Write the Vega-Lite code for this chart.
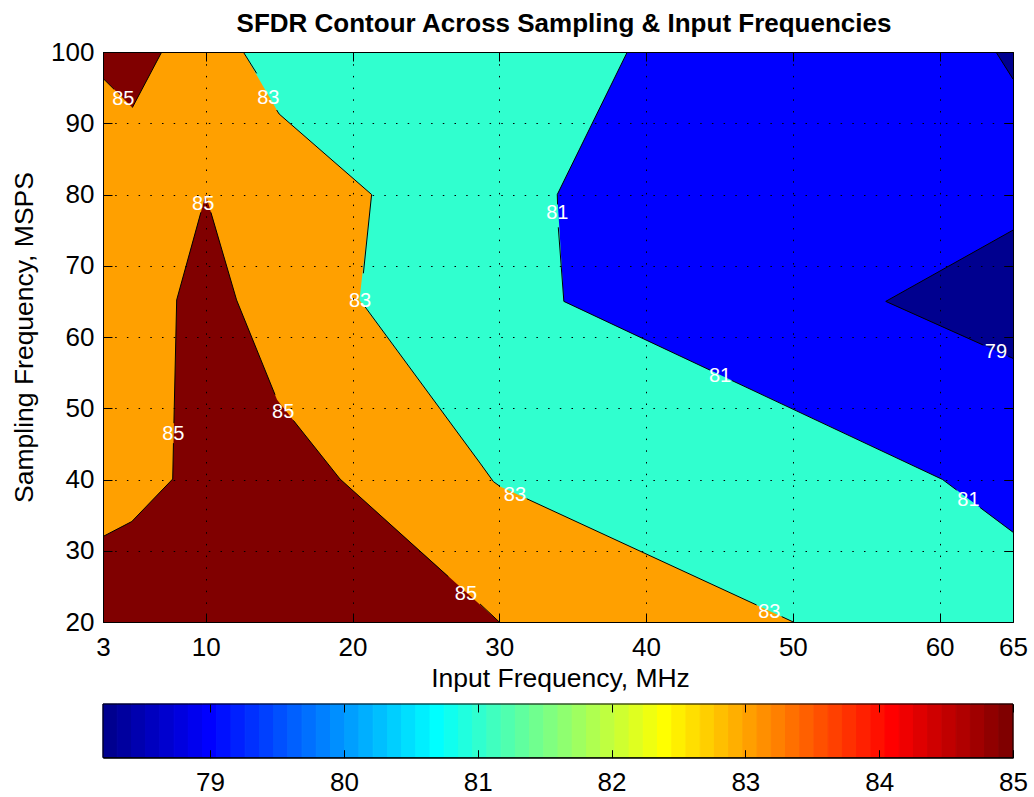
{
  "$schema": "https://vega.github.io/schema/vega-lite/v6.json",
  "padding": {"left": 11, "top": 11, "right": 0, "bottom": 0},
  "background": "white",
  "width": 910,
  "height": 570,
  "config": {
    "view": {"stroke": null},
    "font": "Liberation Sans",
    "axis": {
      "domainColor": "black", "domainWidth": 1, "tickColor": "black", "tickWidth": 1,
      "labelColor": "black", "titleColor": "black", "labelFont": "Liberation Sans", "titleFont": "Liberation Sans",
      "labelFontSize": 26, "titleFontSize": 26.5, "titleFontWeight": "normal",
      "labelFlush": false, "labelOverlap": false, "minExtent": 0,
      "gridColor": "black", "gridOpacity": 1, "gridDash": [1.5, 10.2], "gridWidth": 1
    }
  },
  "title": {"text": "SFDR Contour Across Sampling & Input Frequencies", "fontSize": 26, "fontWeight": "bold", "font": "Liberation Sans", "color": "black", "baseline": "alphabetic", "offset": -19, "anchor": "middle", "dx": 6},
  "datasets": {
    "poly": [
      {"p": 0, "lev": "83", "o": 1, "x": 3, "y": 20}, {"p": 0, "lev": "83", "o": 2, "x": 65, "y": 20}, {"p": 0, "lev": "83", "o": 3, "x": 65, "y": 100}, {"p": 0, "lev": "83", "o": 4, "x": 3, "y": 100},
      {"p": 1, "lev": "85", "o": 1, "x": 3, "y": 100}, {"p": 1, "lev": "85", "o": 2, "x": 7, "y": 100}, {"p": 1, "lev": "85", "o": 3, "x": 5, "y": 92.2}, {"p": 1, "lev": "85", "o": 4, "x": 3, "y": 96.3},
      {"p": 2, "lev": "85", "o": 1, "x": 3, "y": 20}, {"p": 2, "lev": "85", "o": 2, "x": 3, "y": 32}, {"p": 2, "lev": "85", "o": 3, "x": 4.96, "y": 34.1}, {"p": 2, "lev": "85", "o": 4, "x": 7.75, "y": 40.07}, {"p": 2, "lev": "85", "o": 5, "x": 8.02, "y": 65.2}, {"p": 2, "lev": "85", "o": 6, "x": 10, "y": 80}, {"p": 2, "lev": "85", "o": 7, "x": 12.1, "y": 65.2}, {"p": 2, "lev": "85", "o": 8, "x": 14.86, "y": 51.2}, {"p": 2, "lev": "85", "o": 9, "x": 19.15, "y": 40.07}, {"p": 2, "lev": "85", "o": 10, "x": 30, "y": 20},
      {"p": 3, "lev": "81", "o": 1, "x": 12.56, "y": 100}, {"p": 3, "lev": "81", "o": 2, "x": 15, "y": 91.3}, {"p": 3, "lev": "81", "o": 3, "x": 21.3, "y": 80}, {"p": 3, "lev": "81", "o": 4, "x": 20.47, "y": 65.2}, {"p": 3, "lev": "81", "o": 5, "x": 28.69, "y": 42.3}, {"p": 3, "lev": "81", "o": 6, "x": 29.6, "y": 39.7}, {"p": 3, "lev": "81", "o": 7, "x": 30.05, "y": 39.03}, {"p": 3, "lev": "81", "o": 8, "x": 50.03, "y": 20}, {"p": 3, "lev": "81", "o": 9, "x": 65, "y": 20}, {"p": 3, "lev": "81", "o": 10, "x": 65, "y": 100},
      {"p": 4, "lev": "79", "o": 1, "x": 38.72, "y": 100}, {"p": 4, "lev": "79", "o": 2, "x": 33.95, "y": 80}, {"p": 4, "lev": "79", "o": 3, "x": 34.4, "y": 65}, {"p": 4, "lev": "79", "o": 4, "x": 60.2, "y": 40}, {"p": 4, "lev": "79", "o": 5, "x": 65, "y": 32.6}, {"p": 4, "lev": "79", "o": 6, "x": 65, "y": 100},
      {"p": 5, "lev": "78", "o": 1, "x": 65, "y": 75}, {"p": 5, "lev": "78", "o": 2, "x": 56.33, "y": 65}, {"p": 5, "lev": "78", "o": 3, "x": 65, "y": 57},
      {"p": 6, "lev": "78", "o": 1, "x": 63.84, "y": 100}, {"p": 6, "lev": "78", "o": 2, "x": 65, "y": 100}, {"p": 6, "lev": "78", "o": 3, "x": 65, "y": 96.2}
    ],
    "lines": [
      {"s": "A1", "o": 1, "x": 3, "y": 96.3}, {"s": "A1", "o": 2, "x": 3.75, "y": 94.77},
      {"s": "A2", "o": 1, "x": 5, "y": 92.2}, {"s": "A2", "o": 2, "x": 7, "y": 100},
      {"s": "B1", "o": 1, "x": 3, "y": 32}, {"s": "B1", "o": 2, "x": 4.96, "y": 34.1}, {"s": "B1", "o": 3, "x": 7.75, "y": 40.07}, {"s": "B1", "o": 4, "x": 7.8, "y": 45.1},
      {"s": "B2", "o": 1, "x": 7.83, "y": 47.9}, {"s": "B2", "o": 2, "x": 8.02, "y": 65.2}, {"s": "B2", "o": 3, "x": 9.67, "y": 77.5},
      {"s": "B3", "o": 1, "x": 10.35, "y": 77.5}, {"s": "B3", "o": 2, "x": 12.1, "y": 65.2}, {"s": "B3", "o": 3, "x": 14.72, "y": 51.9},
      {"s": "B4", "o": 1, "x": 15.97, "y": 48.3}, {"s": "B4", "o": 2, "x": 19.15, "y": 40.07}, {"s": "B4", "o": 3, "x": 26.53, "y": 26.36},
      {"s": "B5", "o": 1, "x": 28.69, "y": 22.53}, {"s": "B5", "o": 2, "x": 30, "y": 20},
      {"s": "C1", "o": 1, "x": 12.56, "y": 100}, {"s": "C1", "o": 2, "x": 13.47, "y": 97.0},
      {"s": "C2", "o": 1, "x": 14.83, "y": 91.86}, {"s": "C2", "o": 2, "x": 15, "y": 91.3}, {"s": "C2", "o": 3, "x": 21.3, "y": 80}, {"s": "C2", "o": 4, "x": 20.74, "y": 68.94},
      {"s": "C3", "o": 1, "x": 20.85, "y": 64.25}, {"s": "C3", "o": 2, "x": 28.69, "y": 42.3}, {"s": "C3", "o": 3, "x": 29.6, "y": 39.7}, {"s": "C3", "o": 4, "x": 30.05, "y": 39.03},
      {"s": "C4", "o": 1, "x": 31.87, "y": 37.3}, {"s": "C4", "o": 2, "x": 47.53, "y": 22.39},
      {"s": "C5", "o": 1, "x": 49.24, "y": 20.76}, {"s": "C5", "o": 2, "x": 50.03, "y": 20},
      {"s": "D1", "o": 1, "x": 38.72, "y": 100}, {"s": "D1", "o": 2, "x": 33.95, "y": 80}, {"s": "D1", "o": 3, "x": 33.97, "y": 78.6},
      {"s": "D2", "o": 1, "x": 34.02, "y": 75.4}, {"s": "D2", "o": 2, "x": 34.4, "y": 65}, {"s": "D2", "o": 3, "x": 44.36, "y": 55.35},
      {"s": "D3", "o": 1, "x": 45.84, "y": 53.9}, {"s": "D3", "o": 2, "x": 60.2, "y": 40}, {"s": "D3", "o": 3, "x": 61.16, "y": 38.52},
      {"s": "D4", "o": 1, "x": 62.76, "y": 36.06}, {"s": "D4", "o": 2, "x": 65, "y": 32.6},
      {"s": "E1", "o": 1, "x": 65, "y": 75}, {"s": "E1", "o": 2, "x": 56.33, "y": 65}, {"s": "E1", "o": 3, "x": 62.98, "y": 58.86},
      {"s": "E2", "o": 1, "x": 64.68, "y": 57.3}, {"s": "E2", "o": 2, "x": 65, "y": 57},
      {"s": "E3", "o": 1, "x": 63.84, "y": 100}, {"s": "E3", "o": 2, "x": 65, "y": 96.2}
    ],
    "labels": [
      {"x": 4.38, "y": 93.4, "t": "85"}, {"x": 14.26, "y": 93.5, "t": "83"}, {"x": 9.83, "y": 78.67, "t": "85"},
      {"x": 20.51, "y": 65.1, "t": "83"}, {"x": 7.79, "y": 46.4, "t": "85"}, {"x": 15.28, "y": 49.5, "t": "85"},
      {"x": 27.73, "y": 24.0, "t": "85"}, {"x": 31.07, "y": 37.8, "t": "83"}, {"x": 48.4, "y": 21.45, "t": "83"},
      {"x": 33.95, "y": 77.36, "t": "81"}, {"x": 45.04, "y": 54.53, "t": "81"}, {"x": 61.96, "y": 37.12, "t": "81"},
      {"x": 63.84, "y": 57.94, "t": "79"}
    ],
    "cbar": [
      {"i": 1, "a": 78.2, "b": 78.30625}, {"i": 2, "a": 78.30625, "b": 78.4125}, {"i": 3, "a": 78.4125, "b": 78.51875}, {"i": 4, "a": 78.51875, "b": 78.625},
      {"i": 5, "a": 78.625, "b": 78.73125}, {"i": 6, "a": 78.73125, "b": 78.8375}, {"i": 7, "a": 78.8375, "b": 78.94375}, {"i": 8, "a": 78.94375, "b": 79.05},
      {"i": 9, "a": 79.05, "b": 79.15625}, {"i": 10, "a": 79.15625, "b": 79.2625}, {"i": 11, "a": 79.2625, "b": 79.36875}, {"i": 12, "a": 79.36875, "b": 79.475},
      {"i": 13, "a": 79.475, "b": 79.58125}, {"i": 14, "a": 79.58125, "b": 79.6875}, {"i": 15, "a": 79.6875, "b": 79.79375}, {"i": 16, "a": 79.79375, "b": 79.9},
      {"i": 17, "a": 79.9, "b": 80.00625}, {"i": 18, "a": 80.00625, "b": 80.1125}, {"i": 19, "a": 80.1125, "b": 80.21875}, {"i": 20, "a": 80.21875, "b": 80.325},
      {"i": 21, "a": 80.325, "b": 80.43125}, {"i": 22, "a": 80.43125, "b": 80.5375}, {"i": 23, "a": 80.5375, "b": 80.64375}, {"i": 24, "a": 80.64375, "b": 80.75},
      {"i": 25, "a": 80.75, "b": 80.85625}, {"i": 26, "a": 80.85625, "b": 80.9625}, {"i": 27, "a": 80.9625, "b": 81.06875}, {"i": 28, "a": 81.06875, "b": 81.175},
      {"i": 29, "a": 81.175, "b": 81.28125}, {"i": 30, "a": 81.28125, "b": 81.3875}, {"i": 31, "a": 81.3875, "b": 81.49375}, {"i": 32, "a": 81.49375, "b": 81.6},
      {"i": 33, "a": 81.6, "b": 81.70625}, {"i": 34, "a": 81.70625, "b": 81.8125}, {"i": 35, "a": 81.8125, "b": 81.91875}, {"i": 36, "a": 81.91875, "b": 82.025},
      {"i": 37, "a": 82.025, "b": 82.13125}, {"i": 38, "a": 82.13125, "b": 82.2375}, {"i": 39, "a": 82.2375, "b": 82.34375}, {"i": 40, "a": 82.34375, "b": 82.45},
      {"i": 41, "a": 82.45, "b": 82.55625}, {"i": 42, "a": 82.55625, "b": 82.6625}, {"i": 43, "a": 82.6625, "b": 82.76875}, {"i": 44, "a": 82.76875, "b": 82.875},
      {"i": 45, "a": 82.875, "b": 82.98125}, {"i": 46, "a": 82.98125, "b": 83.0875}, {"i": 47, "a": 83.0875, "b": 83.19375}, {"i": 48, "a": 83.19375, "b": 83.3},
      {"i": 49, "a": 83.3, "b": 83.40625}, {"i": 50, "a": 83.40625, "b": 83.5125}, {"i": 51, "a": 83.5125, "b": 83.61875}, {"i": 52, "a": 83.61875, "b": 83.725},
      {"i": 53, "a": 83.725, "b": 83.83125}, {"i": 54, "a": 83.83125, "b": 83.9375}, {"i": 55, "a": 83.9375, "b": 84.04375}, {"i": 56, "a": 84.04375, "b": 84.15},
      {"i": 57, "a": 84.15, "b": 84.25625}, {"i": 58, "a": 84.25625, "b": 84.3625}, {"i": 59, "a": 84.3625, "b": 84.46875}, {"i": 60, "a": 84.46875, "b": 84.575},
      {"i": 61, "a": 84.575, "b": 84.68125}, {"i": 62, "a": 84.68125, "b": 84.7875}, {"i": 63, "a": 84.7875, "b": 84.89375}, {"i": 64, "a": 84.89375, "b": 85.0}
    ]
  },
  "resolve": {"scale": {"x": "independent", "y": "independent", "fill": "independent"}, "axis": {"x": "independent", "y": "independent"}},
  "layer": [
    {
      "resolve": {"axis": {"x": "independent", "y": "independent"}},
      "layer": [
        {
          "data": {"name": "poly"},
          "transform": [{"filter": "datum.p == 0"}],
          "mark": {"type": "line", "strokeWidth": 0, "interpolate": "linear-closed"},
          "encoding": {
            "x": {"field": "x", "type": "quantitative", "scale": {"domain": [3, 65], "nice": false, "zero": false},
              "axis": {"orient": "bottom", "zindex": 1, "values": [3, 10, 20, 30, 40, 50, 60, 65], "title": "Input Frequency, MHz", "grid": true, "tickSize": -9, "labelPadding": 21, "titleX": 457, "titleY": 64.5, "titleBaseline": "alphabetic", "titleAlign": "center"}},
            "y": {"field": "y", "type": "quantitative", "scale": {"domain": [20, 100], "nice": false, "zero": false},
              "axis": {"orient": "left", "zindex": 1, "values": [20, 30, 40, 50, 60, 70, 80, 90, 100], "title": "Sampling Frequency, MSPS", "grid": true, "tickSize": -9, "labelPadding": 18, "titleX": -71, "titleY": 285, "titleAngle": -90, "titleBaseline": "alphabetic", "titleAlign": "center"}},
            "order": {"field": "o", "type": "quantitative"},
            "detail": {"field": "p"},
            "fill": {"field": "lev", "type": "nominal", "scale": {"domain": ["78", "79", "81", "83", "85"], "range": ["#00008F", "#0000FF", "#30FFCF", "#FFA000", "#800000"]}, "legend": null}
          }
        },
        {
          "data": {"name": "poly"},
          "transform": [{"filter": "datum.p == 1 || datum.p == 2"}],
          "mark": {"type": "line", "strokeWidth": 0, "interpolate": "linear-closed"},
          "encoding": {
            "x": {"field": "x", "type": "quantitative", "axis": null},
            "y": {"field": "y", "type": "quantitative", "axis": null},
            "order": {"field": "o", "type": "quantitative"},
            "detail": {"field": "p"},
            "fill": {"field": "lev", "type": "nominal", "legend": null}
          }
        },
        {
          "data": {"name": "poly"},
          "transform": [{"filter": "datum.p == 3"}],
          "mark": {"type": "line", "strokeWidth": 0, "interpolate": "linear-closed"},
          "encoding": {
            "x": {"field": "x", "type": "quantitative", "axis": null},
            "y": {"field": "y", "type": "quantitative", "axis": null},
            "order": {"field": "o", "type": "quantitative"},
            "detail": {"field": "p"},
            "fill": {"field": "lev", "type": "nominal", "legend": null}
          }
        },
        {
          "data": {"name": "poly"},
          "transform": [{"filter": "datum.p == 4"}],
          "mark": {"type": "line", "strokeWidth": 0, "interpolate": "linear-closed"},
          "encoding": {
            "x": {"field": "x", "type": "quantitative", "axis": null},
            "y": {"field": "y", "type": "quantitative", "axis": null},
            "order": {"field": "o", "type": "quantitative"},
            "detail": {"field": "p"},
            "fill": {"field": "lev", "type": "nominal", "legend": null}
          }
        },
        {
          "data": {"name": "poly"},
          "transform": [{"filter": "datum.p == 5 || datum.p == 6"}],
          "mark": {"type": "line", "strokeWidth": 0, "interpolate": "linear-closed"},
          "encoding": {
            "x": {"field": "x", "type": "quantitative", "axis": null},
            "y": {"field": "y", "type": "quantitative", "axis": null},
            "order": {"field": "o", "type": "quantitative"},
            "detail": {"field": "p"},
            "fill": {"field": "lev", "type": "nominal", "legend": null}
          }
        },
        {
          "data": {"name": "lines"},
          "mark": {"type": "line", "color": "black", "strokeWidth": 1},
          "encoding": {
            "x": {"field": "x", "type": "quantitative", "axis": null},
            "y": {"field": "y", "type": "quantitative", "axis": null},
            "order": {"field": "o", "type": "quantitative"},
            "detail": {"field": "s"}
          }
        },
        {
          "data": {"name": "labels"},
          "mark": {"type": "text", "color": "white", "fontSize": 20, "font": "Liberation Sans", "align": "center", "baseline": "middle"},
          "encoding": {
            "x": {"field": "x", "type": "quantitative",
              "axis": {"orient": "top", "zindex": 1, "values": [3, 10, 20, 30, 40, 50, 60, 65], "labels": false, "title": null, "grid": false, "tickSize": -9}},
            "y": {"field": "y", "type": "quantitative",
              "axis": {"orient": "right", "zindex": 1, "values": [20, 30, 40, 50, 60, 70, 80, 90, 100], "labels": false, "title": null, "grid": false, "tickSize": -9}},
            "text": {"field": "t"}
          }
        }
      ]
    },
    {
      "resolve": {"axis": {"x": "independent"}},
      "layer": [
        {
          "data": {"name": "cbar"},
          "mark": {"type": "rect", "strokeWidth": 1},
          "encoding": {
            "x": {"field": "a", "type": "quantitative", "scale": {"domain": [78.2, 85], "nice": false, "zero": false},
              "axis": {"orient": "bottom", "zindex": 1, "offset": 135.7, "values": [79, 80, 81, 82, 83, 84, 85], "title": null, "grid": false, "tickSize": -8, "labelPadding": 19.8}},
            "x2": {"field": "b"},
            "y": {"datum": 0, "type": "quantitative", "scale": {"domain": [0, 1], "range": [705.7, 652], "nice": false, "zero": false}, "axis": null},
            "y2": {"datum": 1},
            "fill": {"field": "i", "type": "quantitative", "scale": {"domain": [1, 8, 24, 40, 56, 64], "range": ["#00008F", "#0000FF", "#00FFFF", "#FFFF00", "#FF0000", "#800000"], "interpolate": "rgb"}, "legend": null},
            "stroke": {"field": "i", "type": "quantitative", "scale": {"domain": [1, 8, 24, 40, 56, 64], "range": ["#00008F", "#0000FF", "#00FFFF", "#FFFF00", "#FF0000", "#800000"], "interpolate": "rgb"}, "legend": null}
          }
        },
        {
          "data": {"values": [{}]},
          "mark": {"type": "rect", "fill": null, "stroke": "black", "strokeWidth": 1},
          "encoding": {
            "x": {"datum": 78.2, "type": "quantitative",
              "axis": {"orient": "top", "zindex": 1, "offset": -652, "values": [79, 80, 81, 82, 83, 84, 85], "labels": false, "title": null, "grid": false, "tickSize": -8, "domain": false}},
            "x2": {"datum": 85},
            "y": {"datum": 0, "type": "quantitative", "axis": null},
            "y2": {"datum": 1}
          }
        }
      ]
    }
  ]
}
